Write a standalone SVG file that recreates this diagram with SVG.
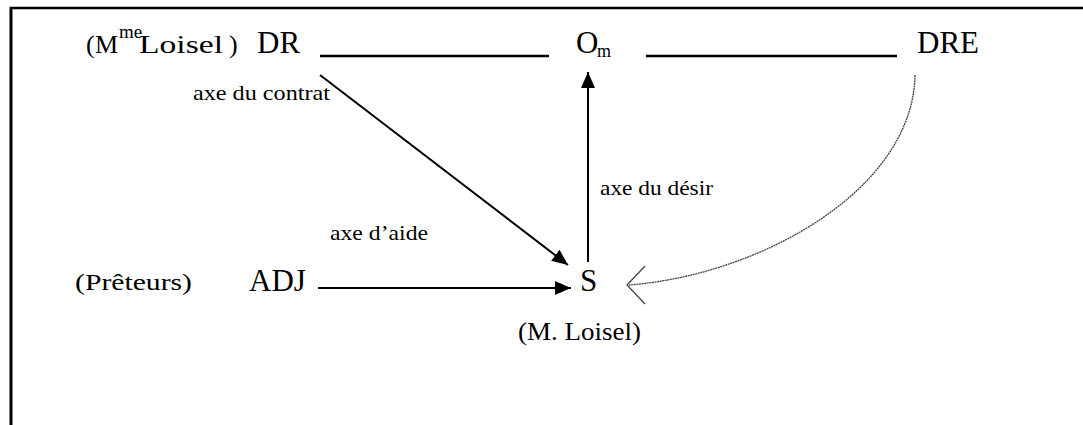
<svg xmlns="http://www.w3.org/2000/svg" width="1083" height="425" viewBox="0 0 1083 425">
<style>
text{font-family:'Liberation Serif','Times New Roman',Times,serif;fill:#000}
.big{font-size:31px}
.lbl{font-size:22px}
.med{font-size:26px}
.ln{stroke:#000;stroke-width:2.5;fill:none}
.arr{stroke:#000;stroke-width:2;fill:none;marker-end:url(#ah)}
.thin{stroke:#444;stroke-width:1.3;fill:none;stroke-dasharray:2 0.6}
</style>
<defs>
<marker id="ah" markerUnits="userSpaceOnUse" markerWidth="18" markerHeight="14" refX="16" refY="7" orient="auto">
<path d="M0,0 L16,7 L0,14 z" fill="#000"/>
</marker>
</defs>
<rect width="1083" height="425" fill="#fff"/>
<g id="frame">
<line x1="10" y1="8" x2="1083" y2="8" stroke="#000" stroke-width="2.5"/>
<line x1="11" y1="7" x2="11" y2="425" stroke="#000" stroke-width="3"/>
</g>
<g id="node-DR">
<text class="med" x="86" y="53">(</text>
<text class="med" x="95" y="53">M</text>
<text x="119" y="38" style="font-size:19px">me</text>
<text class="med" x="139" y="53" textLength="84" lengthAdjust="spacingAndGlyphs">Loisel</text>
<text class="med" x="229" y="53">)</text>
<text class="big" x="257" y="53">DR</text>
</g>
<g id="node-Om">
<text class="big" x="576" y="53">O</text>
<text x="597" y="57" style="font-size:18px">m</text>
</g>
<g id="node-DRE">
<text class="big" x="917" y="53">DRE</text>
</g>
<g id="node-ADJ">
<text x="75" y="290" style="font-size:24px" textLength="117" lengthAdjust="spacingAndGlyphs">(Prêteurs)</text>
<text class="big" x="249" y="291">ADJ</text>
</g>
<g id="node-S">
<text class="big" x="580" y="291">S</text>
<text class="med" x="518" y="340" textLength="123" lengthAdjust="spacingAndGlyphs">(M. Loisel)</text>
</g>
<g id="labels">
<text class="lbl" x="193" y="100" textLength="137" lengthAdjust="spacingAndGlyphs">axe du contrat</text>
<text class="lbl" x="330" y="240" textLength="98" lengthAdjust="spacingAndGlyphs">axe d’aide</text>
<text class="lbl" x="600" y="195" textLength="113" lengthAdjust="spacingAndGlyphs">axe du désir</text>
</g>
<g id="connectors">
<line class="ln" x1="320" y1="56" x2="549" y2="56"/>
<line class="ln" x1="646" y1="56" x2="897" y2="56"/>
<line class="arr" x1="588" y1="262" x2="588" y2="72"/>
<line class="arr" x1="320" y1="75" x2="568" y2="265"/>
<line class="arr" x1="318" y1="288" x2="571" y2="288"/>
<path class="thin" d="M915,75 C913,190 760,275 629,285"/>
<path d="M645,266 L627,285 L645,304" fill="none" stroke="#444" stroke-width="1.3"/>
</g>
</svg>
